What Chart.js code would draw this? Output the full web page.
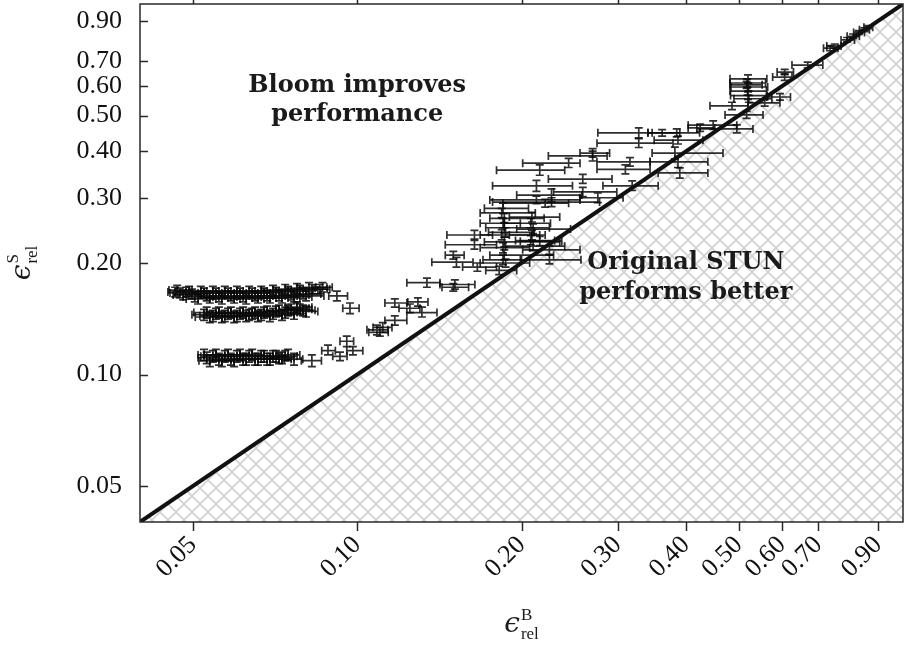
<!DOCTYPE html>
<html>
<head>
<meta charset="utf-8">
<script src="https://cdn.jsdelivr.net/npm/chart.js@4.4.1/dist/chart.umd.min.js"></script>
<style>
  html, body { margin: 0; padding: 0; background: #ffffff; }
  #wrap { width: 908px; height: 645px; }
</style>
</head>
<body>
<div id="wrap"><canvas id="c" width="908" height="645"></canvas></div>
<script>
// Axis range and tick values (both axes logarithmic)
const axisRange = [0.04, 1.0];
const xTicks = [0.05, 0.1, 0.2, 0.3, 0.4, 0.5, 0.6, 0.7, 0.9];
const yTicks = [0.05, 0.1, 0.2, 0.3, 0.4, 0.5, 0.6, 0.7, 0.9];

// Rows: [eB, eB low, eB high, eS, eS low, eS high]
const bandHigh = [
  [0.0464, 0.0450, 0.0486, 0.167, 0.162, 0.172],
  [0.0468, 0.0452, 0.0498, 0.169, 0.164, 0.174],
  [0.0473, 0.0454, 0.0511, 0.166, 0.161, 0.171],
  [0.0480, 0.0460, 0.0518, 0.164, 0.159, 0.169],
  [0.0486, 0.0464, 0.0524, 0.167, 0.162, 0.172],
  [0.0492, 0.0468, 0.0530, 0.168, 0.163, 0.173],
  [0.0498, 0.0473, 0.0537, 0.165, 0.160, 0.170],
  [0.0504, 0.0480, 0.0544, 0.162, 0.157, 0.167],
  [0.0511, 0.0486, 0.0551, 0.160, 0.155, 0.165],
  [0.0517, 0.0492, 0.0558, 0.168, 0.163, 0.173],
  [0.0524, 0.0498, 0.0565, 0.166, 0.161, 0.171],
  [0.0530, 0.0504, 0.0572, 0.163, 0.158, 0.168],
  [0.0537, 0.0511, 0.0580, 0.161, 0.156, 0.166],
  [0.0544, 0.0517, 0.0587, 0.168, 0.163, 0.173],
  [0.0551, 0.0524, 0.0595, 0.166, 0.161, 0.171],
  [0.0558, 0.0530, 0.0602, 0.162, 0.157, 0.167],
  [0.0565, 0.0537, 0.0610, 0.160, 0.155, 0.165],
  [0.0572, 0.0544, 0.0618, 0.168, 0.163, 0.173],
  [0.0580, 0.0551, 0.0626, 0.166, 0.161, 0.171],
  [0.0587, 0.0558, 0.0634, 0.163, 0.158, 0.168],
  [0.0595, 0.0565, 0.0642, 0.161, 0.156, 0.166],
  [0.0602, 0.0572, 0.0650, 0.168, 0.163, 0.173],
  [0.0610, 0.0580, 0.0658, 0.166, 0.161, 0.171],
  [0.0618, 0.0587, 0.0667, 0.162, 0.157, 0.167],
  [0.0626, 0.0595, 0.0675, 0.160, 0.155, 0.165],
  [0.0634, 0.0602, 0.0684, 0.168, 0.163, 0.173],
  [0.0642, 0.0610, 0.0692, 0.166, 0.161, 0.171],
  [0.0650, 0.0618, 0.0701, 0.163, 0.158, 0.168],
  [0.0658, 0.0626, 0.0710, 0.161, 0.156, 0.166],
  [0.0667, 0.0634, 0.0719, 0.168, 0.163, 0.173],
  [0.0675, 0.0642, 0.0728, 0.166, 0.161, 0.171],
  [0.0684, 0.0650, 0.0738, 0.163, 0.158, 0.168],
  [0.0692, 0.0658, 0.0747, 0.161, 0.156, 0.166],
  [0.0701, 0.0667, 0.0757, 0.169, 0.164, 0.174],
  [0.0710, 0.0675, 0.0766, 0.167, 0.162, 0.172],
  [0.0719, 0.0684, 0.0776, 0.163, 0.158, 0.168],
  [0.0728, 0.0692, 0.0785, 0.161, 0.156, 0.166],
  [0.0738, 0.0701, 0.0796, 0.170, 0.165, 0.175],
  [0.0747, 0.0710, 0.0806, 0.168, 0.163, 0.173],
  [0.0757, 0.0719, 0.0816, 0.164, 0.159, 0.169],
  [0.0766, 0.0728, 0.0826, 0.162, 0.157, 0.167],
  [0.0776, 0.0738, 0.0837, 0.171, 0.166, 0.176],
  [0.0785, 0.0747, 0.0847, 0.169, 0.164, 0.174],
  [0.0796, 0.0757, 0.0858, 0.165, 0.160, 0.170],
  [0.0806, 0.0766, 0.0869, 0.163, 0.158, 0.168],
  [0.0816, 0.0776, 0.0880, 0.172, 0.167, 0.177],
  [0.0826, 0.0785, 0.0891, 0.170, 0.165, 0.175],
  [0.0854, 0.0830, 0.0882, 0.170, 0.165, 0.175],
  [0.0864, 0.0840, 0.0900, 0.172, 0.167, 0.177],
  [0.0918, 0.0887, 0.0960, 0.163, 0.158, 0.168],
  [0.0970, 0.0941, 0.1008, 0.151, 0.146, 0.156]
];

const bandMid = [
  [0.0524, 0.0498, 0.0551, 0.145, 0.140, 0.150],
  [0.0530, 0.0502, 0.0558, 0.147, 0.142, 0.152],
  [0.0537, 0.0505, 0.0565, 0.143, 0.138, 0.148],
  [0.0544, 0.0515, 0.0572, 0.144, 0.139, 0.149],
  [0.0551, 0.0524, 0.0580, 0.146, 0.141, 0.151],
  [0.0558, 0.0530, 0.0587, 0.147, 0.142, 0.152],
  [0.0565, 0.0537, 0.0595, 0.143, 0.138, 0.148],
  [0.0572, 0.0544, 0.0602, 0.144, 0.139, 0.149],
  [0.0580, 0.0551, 0.0610, 0.146, 0.141, 0.151],
  [0.0587, 0.0558, 0.0618, 0.147, 0.142, 0.152],
  [0.0595, 0.0565, 0.0626, 0.143, 0.138, 0.148],
  [0.0602, 0.0572, 0.0634, 0.144, 0.139, 0.149],
  [0.0610, 0.0580, 0.0642, 0.146, 0.141, 0.151],
  [0.0618, 0.0587, 0.0650, 0.147, 0.142, 0.152],
  [0.0626, 0.0595, 0.0658, 0.144, 0.139, 0.149],
  [0.0634, 0.0602, 0.0667, 0.145, 0.140, 0.150],
  [0.0642, 0.0610, 0.0675, 0.146, 0.141, 0.151],
  [0.0650, 0.0618, 0.0684, 0.147, 0.142, 0.152],
  [0.0658, 0.0626, 0.0692, 0.144, 0.139, 0.149],
  [0.0667, 0.0634, 0.0701, 0.145, 0.140, 0.150],
  [0.0675, 0.0642, 0.0710, 0.147, 0.142, 0.152],
  [0.0684, 0.0650, 0.0719, 0.148, 0.143, 0.153],
  [0.0692, 0.0658, 0.0728, 0.144, 0.139, 0.149],
  [0.0701, 0.0667, 0.0738, 0.146, 0.141, 0.151],
  [0.0710, 0.0675, 0.0747, 0.148, 0.143, 0.153],
  [0.0719, 0.0684, 0.0757, 0.149, 0.144, 0.154],
  [0.0728, 0.0692, 0.0766, 0.145, 0.140, 0.150],
  [0.0738, 0.0701, 0.0776, 0.147, 0.142, 0.152],
  [0.0747, 0.0710, 0.0785, 0.149, 0.144, 0.154],
  [0.0757, 0.0719, 0.0796, 0.150, 0.145, 0.155],
  [0.0766, 0.0728, 0.0806, 0.146, 0.141, 0.151],
  [0.0775, 0.0740, 0.0826, 0.152, 0.147, 0.157],
  [0.0776, 0.0738, 0.0816, 0.151, 0.146, 0.156],
  [0.0785, 0.0747, 0.0826, 0.150, 0.145, 0.155],
  [0.0796, 0.0757, 0.0837, 0.149, 0.144, 0.154],
  [0.0806, 0.0766, 0.0847, 0.148, 0.143, 0.153]
];

const bandLow = [
  [0.0524, 0.0511, 0.0551, 0.113, 0.109, 0.117],
  [0.0530, 0.0511, 0.0558, 0.111, 0.107, 0.115],
  [0.0537, 0.0513, 0.0565, 0.109, 0.105, 0.113],
  [0.0544, 0.0517, 0.0572, 0.112, 0.108, 0.116],
  [0.0551, 0.0524, 0.0580, 0.113, 0.109, 0.117],
  [0.0558, 0.0530, 0.0587, 0.110, 0.106, 0.114],
  [0.0565, 0.0537, 0.0595, 0.109, 0.105, 0.113],
  [0.0572, 0.0544, 0.0602, 0.112, 0.108, 0.116],
  [0.0580, 0.0551, 0.0610, 0.113, 0.109, 0.117],
  [0.0587, 0.0558, 0.0618, 0.110, 0.106, 0.114],
  [0.0595, 0.0565, 0.0626, 0.109, 0.105, 0.113],
  [0.0602, 0.0572, 0.0634, 0.112, 0.108, 0.116],
  [0.0610, 0.0580, 0.0642, 0.113, 0.109, 0.117],
  [0.0618, 0.0587, 0.0650, 0.110, 0.106, 0.114],
  [0.0626, 0.0595, 0.0658, 0.110, 0.106, 0.114],
  [0.0634, 0.0602, 0.0667, 0.112, 0.108, 0.116],
  [0.0642, 0.0610, 0.0675, 0.113, 0.109, 0.117],
  [0.0650, 0.0618, 0.0684, 0.110, 0.106, 0.114],
  [0.0658, 0.0626, 0.0692, 0.110, 0.106, 0.114],
  [0.0667, 0.0634, 0.0701, 0.112, 0.108, 0.116],
  [0.0675, 0.0642, 0.0710, 0.112, 0.108, 0.116],
  [0.0684, 0.0650, 0.0719, 0.110, 0.106, 0.114],
  [0.0692, 0.0658, 0.0728, 0.110, 0.106, 0.114],
  [0.0701, 0.0667, 0.0738, 0.112, 0.108, 0.116],
  [0.0710, 0.0675, 0.0747, 0.112, 0.108, 0.116],
  [0.0719, 0.0684, 0.0757, 0.110, 0.107, 0.114],
  [0.0728, 0.0692, 0.0766, 0.111, 0.107, 0.115],
  [0.0738, 0.0701, 0.0776, 0.112, 0.109, 0.116],
  [0.0747, 0.0715, 0.0785, 0.113, 0.109, 0.117],
  [0.0766, 0.0735, 0.0795, 0.110, 0.106, 0.114],
  [0.0826, 0.0790, 0.0860, 0.109, 0.105, 0.113]
];

const lowerScatter = [
  [0.0884, 0.0861, 0.0912, 0.116, 0.113, 0.120],
  [0.0930, 0.0902, 0.0958, 0.112, 0.109, 0.115],
  [0.0957, 0.0930, 0.0985, 0.123, 0.119, 0.127],
  [0.0982, 0.0957, 0.1024, 0.116, 0.113, 0.119],
  [0.1087, 0.1042, 0.1138, 0.132, 0.128, 0.136],
  [0.1114, 0.1069, 0.1158, 0.134, 0.130, 0.138],
  [0.1100, 0.1050, 0.1140, 0.130, 0.127, 0.134],
  [0.1172, 0.1124, 0.1233, 0.140, 0.136, 0.144],
  [0.1172, 0.1124, 0.1233, 0.156, 0.152, 0.160],
  [0.1249, 0.1193, 0.1303, 0.151, 0.147, 0.155],
  [0.1292, 0.1238, 0.1348, 0.157, 0.153, 0.161],
  [0.1314, 0.1233, 0.1400, 0.147, 0.143, 0.152],
  [0.1342, 0.1233, 0.1418, 0.177, 0.172, 0.182],
  [0.1510, 0.1418, 0.1643, 0.175, 0.170, 0.180],
  [0.1500, 0.1430, 0.1600, 0.172, 0.168, 0.176]
];

const midCluster = [
  [0.185, 0.171, 0.206, 0.281, 0.272, 0.290],
  [0.184, 0.168, 0.212, 0.273, 0.265, 0.281],
  [0.186, 0.175, 0.220, 0.264, 0.256, 0.272],
  [0.185, 0.168, 0.199, 0.256, 0.249, 0.264],
  [0.186, 0.172, 0.225, 0.249, 0.241, 0.257],
  [0.184, 0.168, 0.216, 0.238, 0.231, 0.246],
  [0.186, 0.171, 0.235, 0.228, 0.221, 0.235],
  [0.185, 0.168, 0.207, 0.220, 0.213, 0.227],
  [0.186, 0.175, 0.229, 0.210, 0.204, 0.217],
  [0.185, 0.170, 0.200, 0.204, 0.198, 0.210],
  [0.187, 0.174, 0.211, 0.242, 0.235, 0.249],
  [0.209, 0.190, 0.235, 0.266, 0.258, 0.274],
  [0.208, 0.186, 0.226, 0.256, 0.249, 0.264],
  [0.210, 0.196, 0.246, 0.247, 0.240, 0.255],
  [0.209, 0.190, 0.221, 0.238, 0.231, 0.245],
  [0.208, 0.195, 0.230, 0.230, 0.224, 0.237],
  [0.210, 0.187, 0.240, 0.222, 0.216, 0.229],
  [0.164, 0.146, 0.177, 0.238, 0.232, 0.245],
  [0.164, 0.145, 0.180, 0.224, 0.218, 0.230],
  [0.152, 0.137, 0.163, 0.201, 0.195, 0.207],
  [0.166, 0.156, 0.180, 0.195, 0.190, 0.200],
  [0.150, 0.145, 0.157, 0.210, 0.205, 0.215],
  [0.225, 0.201, 0.256, 0.217, 0.211, 0.223],
  [0.216, 0.199, 0.237, 0.229, 0.223, 0.236],
  [0.182, 0.172, 0.196, 0.191, 0.186, 0.196],
  [0.187, 0.168, 0.207, 0.200, 0.195, 0.205],
  [0.225, 0.199, 0.257, 0.204, 0.199, 0.210]
];

const upperCluster = [
  [0.213, 0.177, 0.248, 0.323, 0.312, 0.334],
  [0.216, 0.180, 0.240, 0.356, 0.345, 0.368],
  [0.244, 0.201, 0.256, 0.372, 0.362, 0.383],
  [0.270, 0.224, 0.287, 0.389, 0.377, 0.401],
  [0.259, 0.224, 0.293, 0.337, 0.328, 0.347],
  [0.227, 0.196, 0.258, 0.305, 0.293, 0.317],
  [0.227, 0.177, 0.278, 0.292, 0.284, 0.300],
  [0.213, 0.175, 0.256, 0.296, 0.289, 0.303],
  [0.259, 0.229, 0.299, 0.311, 0.302, 0.320],
  [0.276, 0.256, 0.307, 0.300, 0.291, 0.309],
  [0.221, 0.185, 0.244, 0.290, 0.283, 0.297],
  [0.319, 0.282, 0.356, 0.323, 0.314, 0.333],
  [0.328, 0.276, 0.347, 0.449, 0.435, 0.463],
  [0.385, 0.341, 0.424, 0.449, 0.438, 0.460],
  [0.387, 0.350, 0.430, 0.429, 0.419, 0.440],
  [0.328, 0.275, 0.379, 0.421, 0.410, 0.433],
  [0.382, 0.347, 0.468, 0.396, 0.382, 0.411],
  [0.270, 0.256, 0.290, 0.396, 0.386, 0.407],
  [0.316, 0.275, 0.344, 0.375, 0.365, 0.385],
  [0.387, 0.344, 0.439, 0.375, 0.362, 0.388],
  [0.390, 0.356, 0.439, 0.350, 0.339, 0.361],
  [0.362, 0.341, 0.390, 0.449, 0.440, 0.458],
  [0.310, 0.275, 0.344, 0.358, 0.348, 0.368],
  [0.449, 0.404, 0.496, 0.471, 0.459, 0.484],
  [0.496, 0.419, 0.531, 0.460, 0.449, 0.472],
  [0.425, 0.404, 0.452, 0.463, 0.453, 0.474],
  [0.486, 0.443, 0.520, 0.531, 0.519, 0.543],
  [0.517, 0.472, 0.554, 0.502, 0.491, 0.513],
  [0.558, 0.520, 0.595, 0.541, 0.530, 0.552]
];

const topCluster = [
  [0.520, 0.482, 0.563, 0.628, 0.612, 0.644],
  [0.518, 0.482, 0.560, 0.612, 0.597, 0.627],
  [0.521, 0.484, 0.565, 0.597, 0.583, 0.611],
  [0.519, 0.482, 0.562, 0.582, 0.568, 0.596],
  [0.520, 0.483, 0.564, 0.566, 0.553, 0.579],
  [0.522, 0.490, 0.575, 0.555, 0.543, 0.567],
  [0.517, 0.482, 0.552, 0.605, 0.592, 0.618],
  [0.607, 0.577, 0.626, 0.635, 0.622, 0.648],
  [0.595, 0.563, 0.622, 0.561, 0.550, 0.573],
  [0.669, 0.626, 0.713, 0.684, 0.672, 0.697],
  [0.607, 0.588, 0.630, 0.655, 0.645, 0.666],
  [0.735, 0.715, 0.760, 0.760, 0.748, 0.772],
  [0.750, 0.725, 0.770, 0.770, 0.760, 0.780],
  [0.790, 0.770, 0.815, 0.800, 0.790, 0.812],
  [0.810, 0.790, 0.832, 0.818, 0.808, 0.830],
  [0.830, 0.812, 0.850, 0.838, 0.828, 0.848],
  [0.850, 0.832, 0.868, 0.852, 0.842, 0.862],
  [0.865, 0.848, 0.880, 0.866, 0.858, 0.875]
];

const allRows = [].concat(bandHigh, bandMid, bandLow, lowerScatter, midCluster, upperCluster, topCluster);

const canvas = document.getElementById('c');
const ctx0 = canvas.getContext('2d');

// Cross-hatch fill for the region below the identity line
function makeHatch() {
  const s = 16;
  const t = document.createElement('canvas');
  t.width = s; t.height = s;
  const g = t.getContext('2d');
  g.strokeStyle = '#d0d0d0';
  g.lineWidth = 1.6;
  g.beginPath();
  for (let k = -1; k <= 1; k++) {
    g.moveTo(k * s, 0); g.lineTo(k * s + s, s);
    g.moveTo(k * s, s); g.lineTo(k * s + s, 0);
  }
  g.stroke();
  return ctx0.createPattern(t, 'repeat');
}

const serif = '"Liberation Serif", "DejaVu Serif", serif';

// Horizontal and vertical error bars with caps
const errorBars = {
  id: 'errorBars',
  beforeDatasetsDraw(chart) {
    const { ctx, chartArea: a } = chart;
    const xs = chart.scales.x, ys = chart.scales.y;
    const cap = 4;
    ctx.save();
    ctx.beginPath();
    ctx.rect(a.left, a.top, a.right - a.left, a.bottom - a.top);
    ctx.clip();
    ctx.strokeStyle = 'rgba(10,10,10,0.85)';
    ctx.lineWidth = 1.7;
    chart.data.datasets.forEach(ds => {
      if (!ds.errorBars) return;
      ds.data.forEach(p => {
        const px = xs.getPixelForValue(p.x), lo = xs.getPixelForValue(p.xMin), hi = xs.getPixelForValue(p.xMax);
        const py = ys.getPixelForValue(p.y), yl = ys.getPixelForValue(p.yMin), yh = ys.getPixelForValue(p.yMax);
        ctx.beginPath();
        ctx.moveTo(lo, py); ctx.lineTo(hi, py);
        ctx.moveTo(lo, py - cap); ctx.lineTo(lo, py + cap);
        ctx.moveTo(hi, py - cap); ctx.lineTo(hi, py + cap);
        ctx.moveTo(px, yl); ctx.lineTo(px, yh);
        ctx.moveTo(px - cap, yl); ctx.lineTo(px + cap, yl);
        ctx.moveTo(px - cap, yh); ctx.lineTo(px + cap, yh);
        ctx.stroke();
      });
    });
    ctx.restore();
  }
};

// Frame, tick marks, region labels and axis titles
const decorations = {
  id: 'decorations',
  afterDraw(chart) {
    const { ctx, chartArea: a } = chart;
    const xs = chart.scales.x, ys = chart.scales.y;
    ctx.save();
    ctx.strokeStyle = '#2a2a2a';
    ctx.lineWidth = 1.5;
    ctx.strokeRect(a.left, a.top, a.right - a.left, a.bottom - a.top);
    ctx.beginPath();
    yTicks.forEach(v => {
      const p = Math.round(ys.getPixelForValue(v)) + 0.5;
      ctx.moveTo(a.left, p); ctx.lineTo(a.left + 8, p);
    });
    xTicks.forEach(v => {
      const p = Math.round(xs.getPixelForValue(v)) + 0.5;
      ctx.moveTo(p, a.bottom); ctx.lineTo(p, a.bottom + 9);
      ctx.moveTo(p, a.top); ctx.lineTo(p, a.top - 5);
    });
    ctx.stroke();

    // region labels
    ctx.fillStyle = '#1a1a1a';
    ctx.font = 'bold 24px "DejaVu Serif", serif';
    ctx.textAlign = 'center';
    ctx.textBaseline = 'middle';
    const bx = xs.getPixelForValue(0.1), by = ys.getPixelForValue(0.6);
    ctx.fillText('Bloom improves', bx, by);
    ctx.fillText('performance', bx, by + 29);
    const ox = xs.getPixelForValue(0.4), oy = ys.getPixelForValue(0.2);
    ctx.fillText('Original STUN', ox, oy);
    ctx.fillText('performs better', ox, oy + 30);

    // axis titles: epsilon with superscript and subscript
    function sym(sup, cx, cy) {
      ctx.textAlign = 'left';
      ctx.textBaseline = 'alphabetic';
      ctx.font = 'italic 28px "DejaVu Serif", serif';
      const w1 = ctx.measureText('\u03F5').width;
      ctx.font = '17px ' + serif;
      const w2 = Math.max(ctx.measureText(sup).width, ctx.measureText('rel').width);
      const x0 = cx - (w1 + 1 + w2) / 2;
      ctx.font = 'italic 28px "DejaVu Serif", serif';
      ctx.fillText('\u03F5', x0, cy + 6);
      ctx.font = '17px ' + serif;
      ctx.fillText(sup, x0 + w1 + 1, cy - 6);
      ctx.fillText('rel', x0 + w1 + 1, cy + 13);
    }
    sym('B', (a.left + a.right) / 2, 626);
    ctx.save();
    ctx.translate(24, (a.top + a.bottom) / 2);
    ctx.rotate(-Math.PI / 2);
    sym('S', 0, 0);
    ctx.restore();
    ctx.restore();
  }
};

const pointData = allRows.map(r => ({ x: r[0], xMin: r[1], xMax: r[2], y: r[3], yMin: r[4], yMax: r[5] }));

new Chart(canvas, {
  type: 'scatter',
  data: {
    datasets: [
      {
        label: 'runs',
        data: pointData,
        errorBars: true,
        pointRadius: 0,
        pointHoverRadius: 0,
        showLine: false
      },
      {
        type: 'line',
        label: 'identity',
        data: [{ x: axisRange[0], y: axisRange[0] }, { x: axisRange[1], y: axisRange[1] }],
        borderColor: '#111111',
        borderWidth: 4,
        pointRadius: 0,
        fill: 'start',
        backgroundColor: makeHatch()
      }
    ]
  },
  options: {
    responsive: false,
    animation: false,
    layout: { padding: { top: 4, right: 5, left: 0, bottom: 0 } },
    plugins: {
      legend: { display: false },
      tooltip: { enabled: false },
      filler: { drawTime: 'beforeDatasetsDraw' }
    },
    scales: {
      x: {
        type: 'logarithmic',
        min: axisRange[0],
        max: axisRange[1],
        afterBuildTicks: s => { s.ticks = xTicks.map(v => ({ value: v })); },
        afterFit: s => { s.height = 123; s.paddingLeft = 0; s.paddingRight = 0; },
        grid: { display: false, drawTicks: false },
        border: { display: false },
        ticks: {
          autoSkip: false,
          minRotation: 45,
          maxRotation: 45,
          padding: 8,
          color: '#111111',
          font: { family: serif, size: 26 },
          callback: v => Number(v).toFixed(2)
        }
      },
      y: {
        type: 'logarithmic',
        min: axisRange[0],
        max: axisRange[1],
        afterBuildTicks: s => { s.ticks = yTicks.map(v => ({ value: v })); },
        afterFit: s => { s.width = 140; s.paddingTop = 0; s.paddingBottom = 0; },
        grid: { display: false, drawTicks: false },
        border: { display: false },
        ticks: {
          autoSkip: false,
          padding: 18,
          color: '#111111',
          font: { family: serif, size: 26 },
          callback: v => Number(v).toFixed(2)
        }
      }
    }
  },
  plugins: [errorBars, decorations]
});
</script>
</body>
</html>
